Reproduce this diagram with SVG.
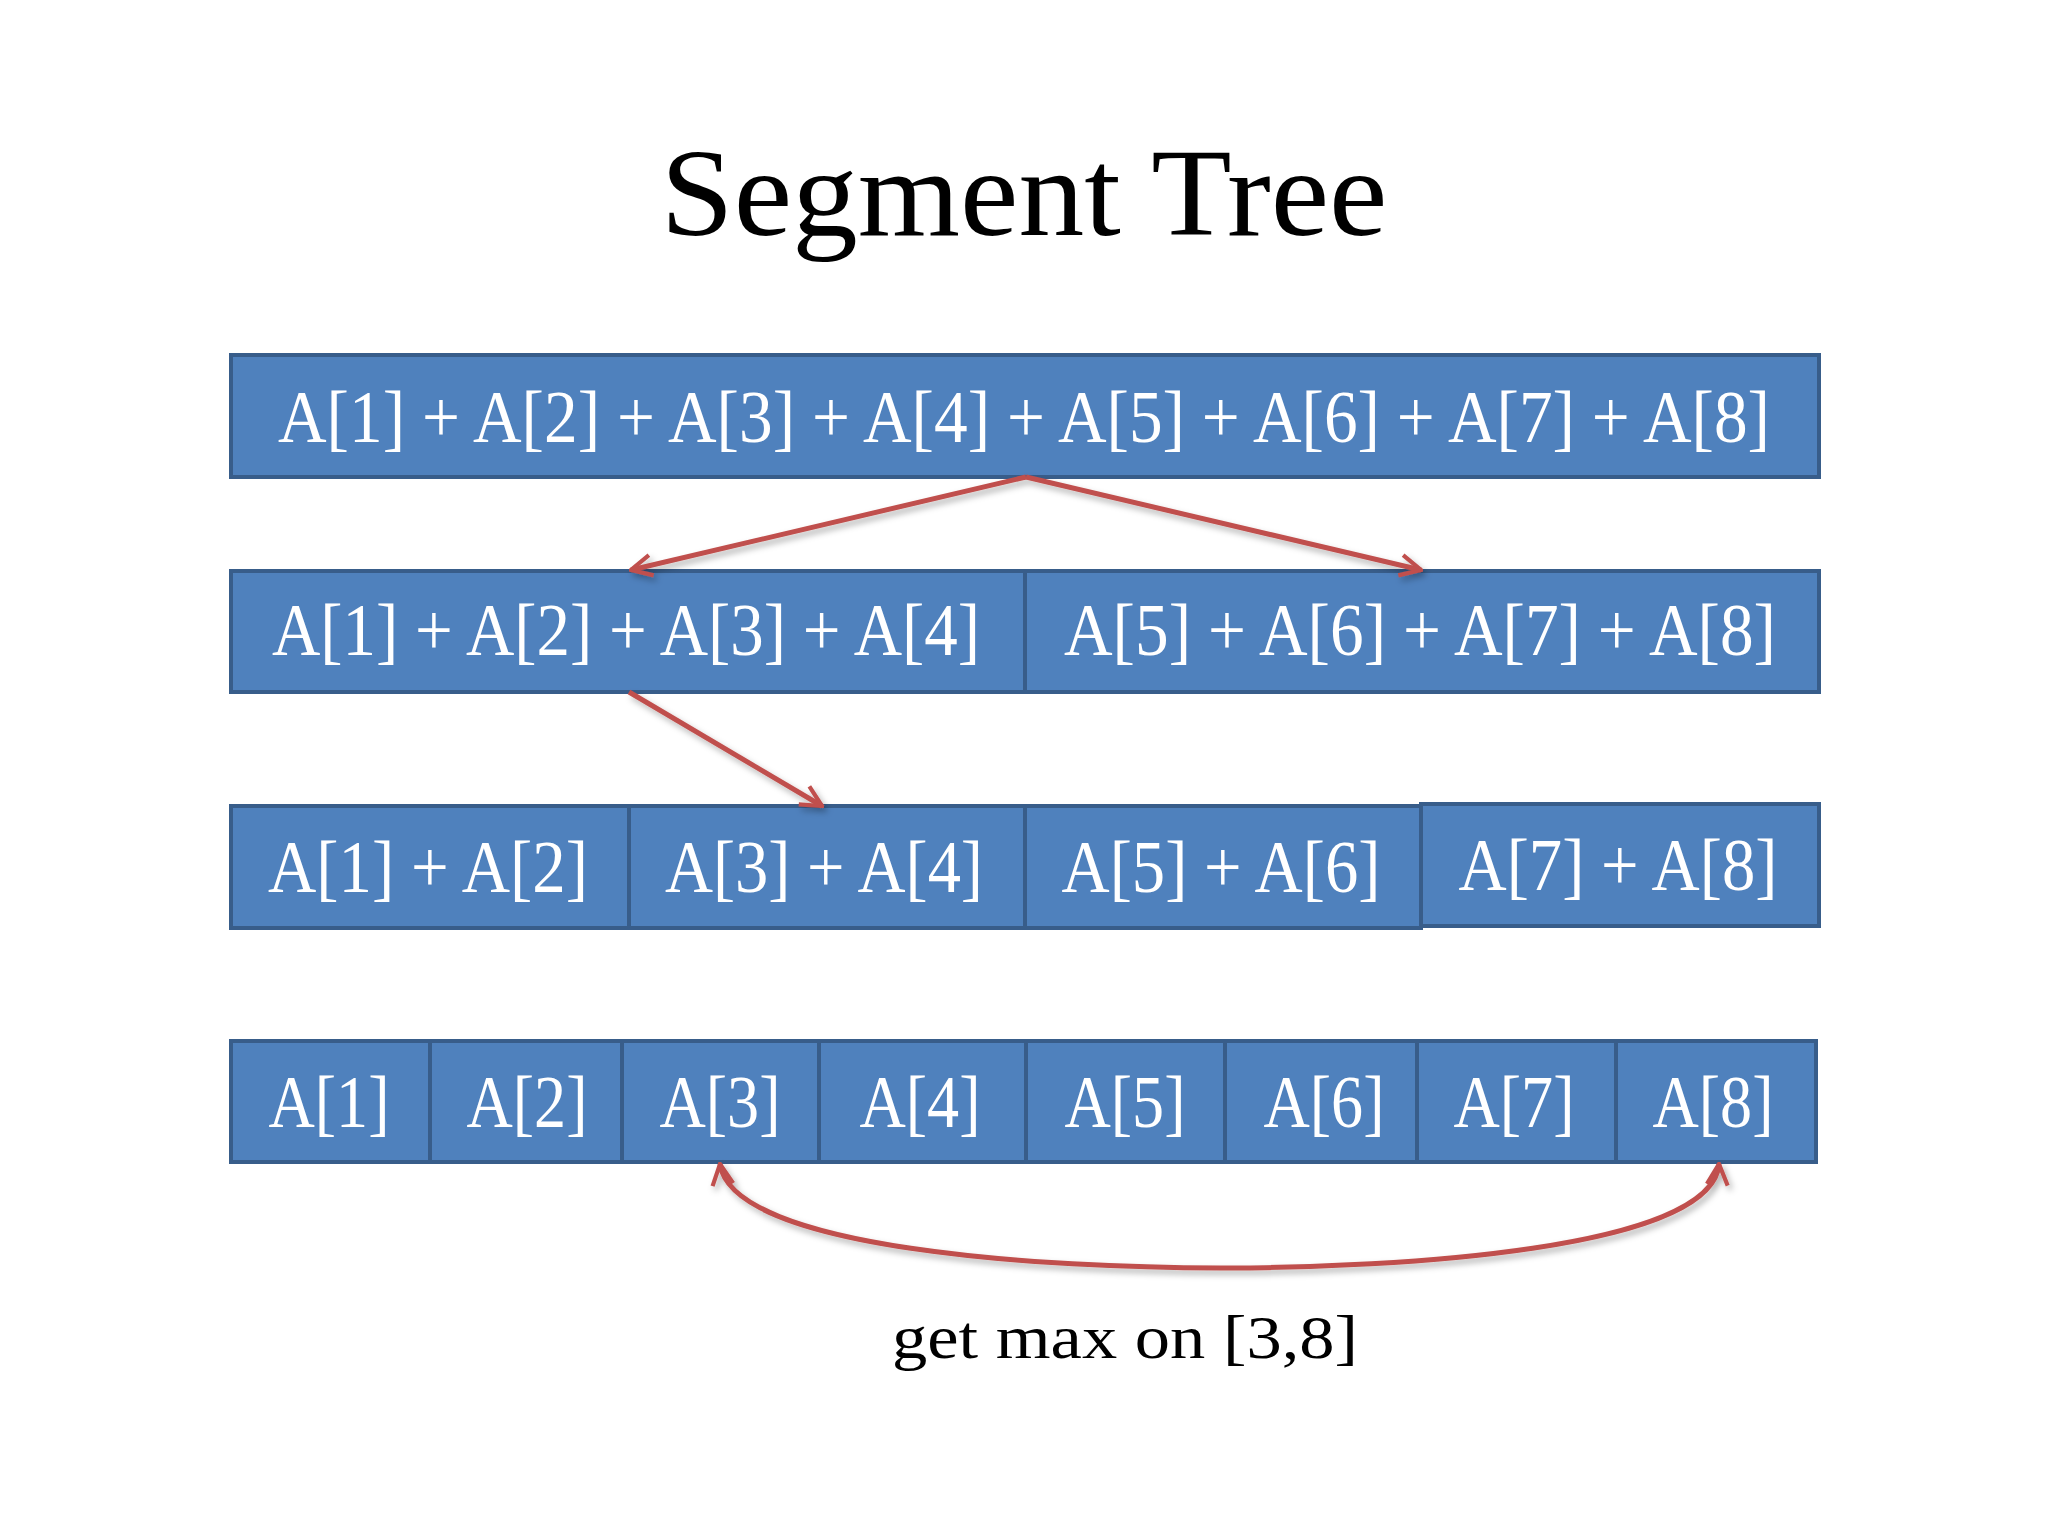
<svg xmlns="http://www.w3.org/2000/svg" width="2048" height="1536" viewBox="0 0 2048 1536">
<style>
.box{fill:#4F81BD;stroke:#385D8A;stroke-width:4}
.t{font-family:"Liberation Serif","DejaVu Serif",serif;font-size:74px;fill:#FFFFFF;text-anchor:middle}
.title{font-family:"Liberation Serif","DejaVu Serif",serif;font-size:124px;fill:#000000;text-anchor:middle}
.lbl{font-family:"Liberation Serif","DejaVu Serif",serif;font-size:62px;fill:#000000;text-anchor:middle}
.conn{fill:none;stroke:#C0504D;stroke-width:5}
</style>
<defs>
<marker id="arr" viewBox="0 0 12 12" refX="11" refY="6" markerWidth="5" markerHeight="5" orient="auto-start-reverse" markerUnits="strokeWidth">
<path d="M1,1 L11,6 L1,11" fill="none" stroke="#C0504D" stroke-width="2" stroke-linejoin="miter"/>
</marker>
<filter id="sh" x="-10%" y="-10%" width="120%" height="140%">
<feDropShadow dx="3" dy="4" stdDeviation="3" flood-color="#000000" flood-opacity="0.3"/>
</filter>
</defs>
<rect width="2048" height="1536" fill="#FFFFFF"/>
<text class="title" x="1024" y="235" textLength="727" lengthAdjust="spacingAndGlyphs">Segment Tree</text>

<g id="root"><rect class="box" x="231" y="355" width="1588" height="122"/><text class="t" x="1024" y="442" textLength="1492" lengthAdjust="spacingAndGlyphs">A[1] + A[2] + A[3] + A[4] + A[5] + A[6] + A[7] + A[8]</text></g>

<g id="n1-4"><rect class="box" x="231" y="571" width="794" height="121"/><text class="t" x="626" y="655" textLength="708" lengthAdjust="spacingAndGlyphs">A[1] + A[2] + A[3] + A[4]</text></g>
<g id="n5-8"><rect class="box" x="1025" y="571" width="794" height="121"/><text class="t" x="1420" y="655" textLength="712" lengthAdjust="spacingAndGlyphs">A[5] + A[6] + A[7] + A[8]</text></g>

<g id="n1-2"><rect class="box" x="231" y="806" width="398" height="122"/><text class="t" x="428" y="892" textLength="320" lengthAdjust="spacingAndGlyphs">A[1] + A[2]</text></g>
<g id="n3-4"><rect class="box" x="629" y="806" width="396" height="122"/><text class="t" x="824" y="892" textLength="318" lengthAdjust="spacingAndGlyphs">A[3] + A[4]</text></g>
<g id="n5-6"><rect class="box" x="1025" y="806" width="396" height="122"/><text class="t" x="1221" y="892" textLength="319" lengthAdjust="spacingAndGlyphs">A[5] + A[6]</text></g>
<g id="n7-8"><rect class="box" x="1421" y="804" width="398" height="122"/><text class="t" x="1618" y="890" textLength="319" lengthAdjust="spacingAndGlyphs">A[7] + A[8]</text></g>

<g id="a1"><rect class="box" x="231" y="1041" width="199" height="121"/><text class="t" x="329" y="1127" textLength="121" lengthAdjust="spacingAndGlyphs">A[1]</text></g>
<g id="a2"><rect class="box" x="430" y="1041" width="192" height="121"/><text class="t" x="527" y="1127" textLength="121" lengthAdjust="spacingAndGlyphs">A[2]</text></g>
<g id="a3"><rect class="box" x="622" y="1041" width="197" height="121"/><text class="t" x="720" y="1127" textLength="121" lengthAdjust="spacingAndGlyphs">A[3]</text></g>
<g id="a4"><rect class="box" x="819" y="1041" width="207" height="121"/><text class="t" x="920" y="1127" textLength="121" lengthAdjust="spacingAndGlyphs">A[4]</text></g>
<g id="a5"><rect class="box" x="1026" y="1041" width="199" height="121"/><text class="t" x="1125" y="1127" textLength="121" lengthAdjust="spacingAndGlyphs">A[5]</text></g>
<g id="a6"><rect class="box" x="1225" y="1041" width="192" height="121"/><text class="t" x="1324" y="1127" textLength="121" lengthAdjust="spacingAndGlyphs">A[6]</text></g>
<g id="a7"><rect class="box" x="1417" y="1041" width="199" height="121"/><text class="t" x="1514" y="1127" textLength="121" lengthAdjust="spacingAndGlyphs">A[7]</text></g>
<g id="a8"><rect class="box" x="1616" y="1041" width="200" height="121"/><text class="t" x="1713" y="1127" textLength="121" lengthAdjust="spacingAndGlyphs">A[8]</text></g>

<g id="connectors" filter="url(#sh)">
<path class="conn" d="M1026,477 L631,570" marker-end="url(#arr)"/>
<path class="conn" d="M1026,477 L1421,570" marker-end="url(#arr)"/>
<path class="conn" d="M629,692 L822,806" marker-end="url(#arr)"/>
<path class="conn" d="M720,1164 C732,1250 1050,1268 1221,1268 C1395,1268 1712,1250 1719,1164" marker-start="url(#arr)" marker-end="url(#arr)"/>
</g>

<text class="lbl" x="1125" y="1358" textLength="466" lengthAdjust="spacingAndGlyphs">get max on [3,8]</text>
</svg>
